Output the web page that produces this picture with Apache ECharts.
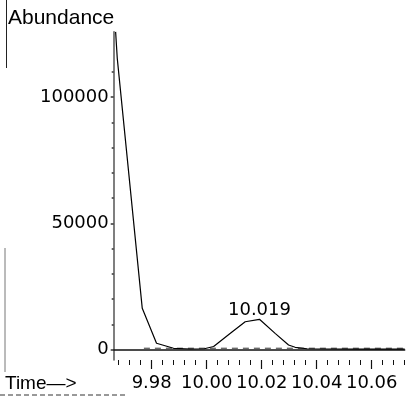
<!DOCTYPE html>
<html>
<head>
<meta charset="utf-8">
<script src="https://cdn.jsdelivr.net/npm/echarts@6/dist/echarts.min.js"></script>
<style>
html,body{margin:0;padding:0;background:#fff;}
#chart{width:409px;height:396px;}
</style>
</head>
<body>
<div id="chart"></div>
<script>
// ---- data ----
var times  = [9.9667, 9.9673, 9.9764, 9.9816, 9.9878, 9.9940, 9.9990, 10.0024, 10.0085, 10.0139, 10.0191, 10.0248, 10.0297, 10.0321, 10.0364, 10.0450, 10.0550, 10.0650, 10.0720];
var abund  = [125800, 115300, 16300, 2460, 480, 200, 300, 1200, 6400, 11000, 11960, 6400, 1780, 870, 300, 200, 150, 200, 150];
var baselineTimes  = [9.9770, 10.0720];
var baselineValues = [500, 500];
var peakIndex = 10;
var peakLabel = '10.019';
var xTickLabels = ['9.98', '10.00', '10.02', '10.04', '10.06'];
var yTickLabels = ['0', '50000', '100000'];
var yTitle = 'Abundance';
var xTitle = 'Time\u2014>';

// ---- build ----
var curve = times.map(function (t, i) {
  var item = { value: [t, abund[i]] };
  if (i === peakIndex) {
    item.label = { show: true, formatter: peakLabel, position: 'top', distance: 0,
      fontFamily: 'DejaVu Sans', fontSize: 18, color: '#000' };
  }
  return item;
});
var baseline = baselineTimes.map(function (t, i) { return [t, baselineValues[i]]; });

var numFont = 'DejaVu Sans';
var hiddenX = function (g) { return { type: 'value', gridIndex: g, show: false, min: 0, max: 1 }; };
var hiddenY = function (g) { return { type: 'value', gridIndex: g, show: false, min: 0, max: 1 }; };

var option = {
  animation: false,
  backgroundColor: '#fff',
  grid: [
    { left: 113.7, right: 4.3, top: 31.7, bottom: 36 },      // 0 main
    { left: 118.7, right: 4.3, top: 31.7, bottom: 36 },      // 1 x minor ticks
    { left: 151.7, right: 37.3, top: 31.7, bottom: 36 },     // 2 x major ticks + labels
    { left: 113.7, right: 4.3, top: 71.75, bottom: 46.5 },   // 3 y minor ticks
    { left: 113.7, right: 4.3, top: 97, bottom: 46.5 }       // 4 y major ticks + labels
  ],
  xAxis: [
    { type: 'value', gridIndex: 0, min: 9.966, max: 10.072,
      axisLine: { show: true, lineStyle: { color: '#111', width: 1.5 } },
      axisTick: { show: false }, axisLabel: { show: false }, splitLine: { show: false } },
    { type: 'value', gridIndex: 1, min: 9.968, max: 10.072, interval: 0.004,
      axisLine: { show: false },
      axisTick: { show: true, length: 5, lineStyle: { color: '#111', width: 1 } },
      axisLabel: { show: false }, splitLine: { show: false } },
    { type: 'value', gridIndex: 2, min: 9.98, max: 10.06, interval: 0.02,
      axisLine: { show: false },
      axisTick: { show: true, length: 9, lineStyle: { color: '#111', width: 1.2 } },
      axisLabel: { show: true, margin: 14, fontFamily: numFont, fontSize: 18, color: '#000',
        formatter: function (v) {
          var i = Math.round((v - 9.98) / 0.02);
          return xTickLabels[i] !== undefined ? xTickLabels[i] : '';
        } },
      splitLine: { show: false } },
    hiddenX(3), hiddenX(4)
  ],
  yAxis: [
    { type: 'value', gridIndex: 0, min: -4160, max: 125860,
      axisLine: { show: true, lineStyle: { color: '#555', width: 1.5 } },
      axisTick: { show: false }, axisLabel: { show: false }, splitLine: { show: false } },
    hiddenY(1), hiddenY(2),
    { type: 'value', gridIndex: 3, min: 0, max: 110000, interval: 10000,
      axisLine: { show: false },
      axisTick: { show: true, length: 2, lineStyle: { color: '#333', width: 1.5 } },
      axisLabel: { show: false }, splitLine: { show: false } },
    { type: 'value', gridIndex: 4, min: 0, max: 100000, interval: 50000,
      axisLine: { show: false },
      axisTick: { show: true, length: 3, lineStyle: { color: '#333', width: 1.5 } },
      axisLabel: { show: true, margin: 5, fontFamily: numFont, fontSize: 18, color: '#000',
        formatter: function (v) {
          var i = Math.round(v / 50000);
          return yTickLabels[i] !== undefined ? yTickLabels[i] : '';
        } },
      splitLine: { show: false } }
  ],
  series: [
    { type: 'line', xAxisIndex: 0, yAxisIndex: 0, data: baseline, symbol: 'none',
      lineStyle: { color: '#333', width: 1, type: [6, 5] }, z: 2, silent: true },
    { type: 'line', xAxisIndex: 0, yAxisIndex: 0, data: curve,
      symbol: 'circle', symbolSize: 0.01, showSymbol: true, showAllSymbol: true,
      itemStyle: { color: '#000' },
      lineStyle: { color: '#000', width: 1.2 }, z: 3, silent: true,
      labelLayout: { hideOverlap: false } }
  ],
  graphic: [
    { type: 'text', left: 8, top: 8, style: { text: yTitle, font: '21px "Liberation Sans", Arial, sans-serif', fill: '#000' } },
    { type: 'text', left: 5, top: 374, style: { text: xTitle, font: '19px "Liberation Sans", Arial, sans-serif', fill: '#000' } },
    { type: 'line', shape: { x1: 6.5, y1: 0, x2: 6.5, y2: 68 }, style: { stroke: '#222', lineWidth: 1 } },
    { type: 'line', shape: { x1: 5, y1: 248, x2: 5, y2: 372 }, style: { stroke: '#777', lineWidth: 1 } },
    { type: 'line', shape: { x1: 0, y1: 395, x2: 125, y2: 395 }, style: { stroke: '#333', lineWidth: 1, lineDash: [5, 3] } }
  ]
};

var chart = echarts.init(document.getElementById('chart'), null, { renderer: 'canvas' });
chart.setOption(option);
</script>
</body>
</html>
